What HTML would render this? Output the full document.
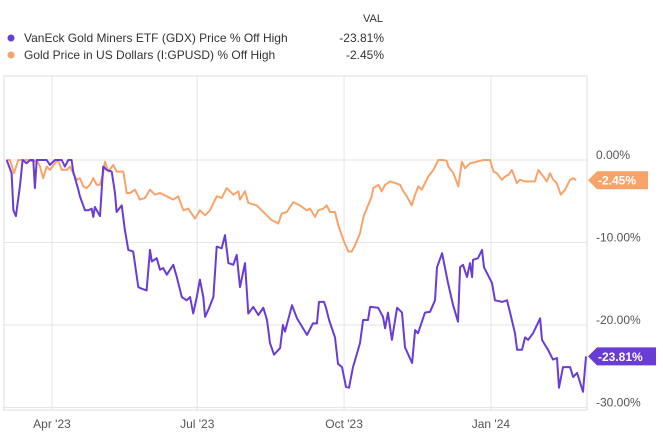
<!DOCTYPE html>
<html><head><meta charset="utf-8"><style>
body{margin:0;background:#fff;font-family:"Liberation Sans",sans-serif;}
svg{display:block}
</style></head><body>
<svg id="c" width="663" height="437" xmlns="http://www.w3.org/2000/svg">
<g font-size="12" fill="#333">
<text x="363" y="22" font-size="11">VAL</text>
<circle cx="11" cy="38" r="3.5" fill="#6a3cd6"/>
<text x="24" y="42">VanEck Gold Miners ETF (GDX) Price % Off High</text>
<text x="384" y="42" text-anchor="end">-23.81%</text>
<circle cx="11" cy="55" r="3.5" fill="#f9a36b"/>
<text x="24" y="59">Gold Price in US Dollars (I:GPUSD) % Off High</text>
<text x="384" y="59" text-anchor="end">-2.45%</text>
</g>
<g id="grid"></g>
<rect x="4" y="76" width="583" height="334" fill="none" stroke="#ddd"/>
<g id="series"></g>
<g id="labels"></g>
</svg>
<script>
const xTickDays=[0,91,183,275];
const xTickLabels=["Apr '23","Jul '23","Oct '23","Jan '24"];
const yTicks=[0,-10,-20,-30];
const yTickLabels=["0.00%","-10.00%","-20.00%","-30.00%"];
const gdxDays=[-28.4,-25.3,-24.2,-22.6,-20.1,-18.4,-15.9,-13.8,-11.7,-10.7,-9.6,-7.5,-3.3,-1.3,1.9,3.9,6.1,8.1,10.2,12.3,13.3,16.5,17.5,20.7,22.7,24.9,25.9,26.9,30.1,32.1,34.3,37.4,39.5,40.5,43.7,45.7,47.8,50.9,54.1,56.2,59.3,61.4,62.5,65.6,67.7,69.7,71.9,76,78.1,81.3,84.4,86.5,88.5,90.7,92.7,94.8,95.9,97.9,101.1,103.2,106.3,108.4,110.5,113.6,115.7,117.8,120.9,123,126.1,129.3,132.4,134.7,136.6,139.1,142.9,144.7,146,150.4,153.5,159.8,163.5,166,167.3,170.4,171.7,173.6,177.3,179.2,181.7,184.2,186.1,188.6,193,194.9,198,199.3,204.3,207.4,208.7,210.5,213,216.2,219.3,221.2,225.6,227.5,229.3,233.7,236.9,240,241.2,244.4,248.1,251.3,254.4,255.7,257.5,260,261.9,263.2,263.8,266.9,269.4,270.7,275.7,277.6,282,285.1,287,290.1,291.4,294.5,296.4,298.3,301.4,305.8,307,310.8,313.9,316.4,317.7,320.2,324.6,326.5,329,332.7,334.6];
const gdxValues=[0,-1.6,-6.1,-6.8,-3.2,0,-0.4,0,0,-3.4,0,0,0,-0.6,0,0,0,-0.8,0,0,-1.4,-3.6,-4.4,-6.1,-6.1,-5.9,-6.9,-5.7,-6.8,-0.8,-1.2,-1.4,-4,-6.3,-5.5,-8.5,-10.9,-11.1,-15.4,-15.6,-15.8,-10.9,-12.3,-11.9,-13.3,-13.1,-13.9,-12.7,-14.1,-16.6,-17,-16.6,-18.6,-16.6,-14.5,-16.6,-19,-18.2,-16.6,-10.5,-10.7,-9.1,-12.5,-12.7,-11.5,-15.4,-12.5,-18.6,-17.8,-18.8,-17.9,-19.4,-22.2,-23.6,-22.8,-20,-20.8,-17.6,-19.2,-21.2,-19.8,-19.8,-17.2,-17.2,-17.9,-19.4,-21.5,-24.7,-25.1,-27.5,-27.6,-25.1,-22.2,-19.4,-19.4,-17.8,-17.9,-19,-20.4,-18.5,-21.8,-17.9,-18.5,-22.7,-24.6,-20.6,-21,-18.5,-18.4,-17,-13,-11.3,-14.9,-17.6,-19.6,-13,-12.7,-14.2,-12.5,-14.2,-12.1,-11.9,-10.9,-13,-14.9,-17,-17.2,-17,-18.5,-21,-23,-23,-21.5,-21.8,-21,-19.2,-21.8,-23,-24.2,-24,-27.6,-25.1,-25.1,-26.3,-25.8,-28.1,-23.81];
const goldDays=[-28.4,-26.3,-23.8,-21.1,-18,-14.8,-11.7,-9.6,-7.5,-5.5,-3.3,-1.3,1.9,3.9,6.1,9.2,11.3,13.3,15.5,17.5,19.6,21.7,23.8,25.9,28,30.1,32.1,33.2,35.3,38.4,40.5,44.7,46.8,48.9,52,55.1,58.3,61.4,64.5,67.7,71.9,76,79.1,82.3,85.4,89.6,92.7,95.9,99,103.2,106.3,109.5,113.6,116.8,117.8,120.9,123,128.3,134.5,137.7,141.8,143.9,147.1,151.2,155.4,159.6,161.7,164.8,166.9,170,172.1,174.2,177.3,179.4,182.6,185.7,187.8,189.9,193,195.1,197.2,200.3,201.3,204.5,206.6,208.7,211.8,214.9,218.1,220.1,222.3,225.4,227.5,229.5,231.7,233.7,235.8,239,242.1,245.2,247.3,248.4,251.5,254.6,256.8,258.8,261.9,266.1,270.3,274.5,276.6,278.7,281.8,283.9,286,288.1,290.1,291.2,293.2,296.4,299.5,302.6,304.7,307.9,310,312,314.1,316.2,318.8,321.5,324.6,326.7,328.4];
const goldValues=[0,0,-1.6,0,0,0,-0.2,0,-0.8,-2.2,-0.8,-1.2,-0.4,0,-1.2,-1.2,-0.8,-1.6,-2.4,-2.2,-3.2,-3.4,-3,-2.2,-3,-3,-1.6,-0.2,-1.4,-0.6,-1.4,-1.4,-4,-4,-3.6,-4.8,-4.6,-3.6,-4.2,-4,-4.4,-4.8,-4.4,-6.1,-5.9,-7.1,-6.1,-6.7,-6.1,-4.4,-4.6,-3.4,-4.2,-3.8,-4.8,-3.8,-5.2,-5.5,-6.7,-7.3,-7.7,-6.5,-6.3,-5.1,-5.5,-6.1,-5.9,-6.9,-6.1,-5.9,-5.5,-6.3,-6.3,-7.9,-9.7,-11.1,-11.1,-10.3,-8.9,-6.9,-5.9,-4.4,-3.4,-3,-3.8,-3,-2.6,-2.8,-3,-3.8,-4.4,-5.5,-4.2,-3.2,-3.6,-2.8,-2,-1.2,0,0,-0.1,-0.8,-1.6,-3.2,-0.2,-1,-0.4,-0.2,0,0,-1.4,-1.6,-2.4,-2,-1.8,-1.2,-2.2,-2.8,-2.4,-2.6,-2.6,-2.6,-1.2,-2,-2.6,-1.6,-2.4,-2.8,-4.2,-3.6,-2.4,-2.2,-2.45];

const NS='http://www.w3.org/2000/svg';
const xs=d=>52+d*1.596;
const ys=v=>160-v*8.25;
function mk(tag,attrs,parent){const e=document.createElementNS(NS,tag);for(const k in attrs)e.setAttribute(k,attrs[k]);parent.appendChild(e);return e;}
const grid=document.getElementById('grid'),series=document.getElementById('series'),labels=document.getElementById('labels');
yTicks.forEach((v,i)=>{
  const l=mk('line',{x1:4,x2:587,y1:ys(v),y2:ys(v),stroke:'#e6e6e6'},grid);
  
  
  const t=mk('text',{x:596,y:ys(v)-1,'font-size':12,fill:'#555'},labels);
  t.textContent=yTickLabels[i];
  
  
});
xTickDays.forEach((d,i)=>{
  const l=mk('line',{x1:xs(d),x2:xs(d),y1:76,y2:410,stroke:'#e6e6e6'},grid);
  
  
  const t=mk('text',{x:xs(d),y:428,'font-size':12,fill:'#555','text-anchor':'middle'},labels);
  t.textContent=xTickLabels[i];
  
  
});
function line(days,vals,color,name){
  const p=mk('polyline',{points:days.map((d,i)=>xs(d).toFixed(1)+','+ys(vals[i]).toFixed(1)).join(' '),fill:'none',stroke:color,'stroke-width':2,'stroke-linejoin':'round'},series);
  
  
}
line(goldDays,goldValues,'#f9a36b','gold-line');
line(gdxDays,gdxValues,'#6a3cd6','gdx-line');
function tag(v,color,w,txt,name){
  const y=ys(v);
  const g=mk('g',{},labels);
  
  
  mk('path',{d:`M588 ${y} L597 ${y-9} L${588+w} ${y-9} L${588+w} ${y+9} L597 ${y+9} Z`,fill:color},g);
  const t=mk('text',{x:598,y:y+4.5,'font-size':12,'font-weight':'bold',fill:'#fff'},g);
  t.textContent=txt;
}
tag(goldValues[goldValues.length-1],'#f9a36b',60,'-2.45%','gold-value-tag');
tag(gdxValues[gdxValues.length-1],'#6a3cd6',68,'-23.81%','gdx-value-tag');
</script>
</body></html>
